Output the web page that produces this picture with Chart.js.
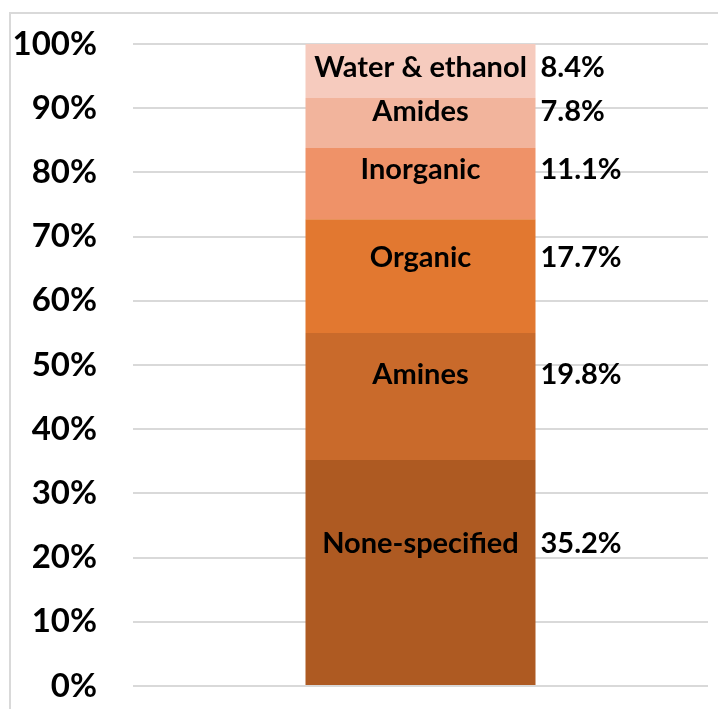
<!DOCTYPE html>
<html>
<head>
<meta charset="utf-8">
<script src="https://cdn.jsdelivr.net/npm/chart.js@4"></script>
<style>
    html, body { margin: 0; padding: 0; background: #fff; }
</style>
</head>
<body>
<canvas id="stackChart" width="718" height="709"></canvas>
<script>
// 資料
const categories = [''];
const segmentNames = ['None-specified', 'Amines', 'Organic', 'Inorganic', 'Amides', 'Water & ethanol'];
const segmentValues = [35.2, 19.8, 17.7, 11.1, 7.8, 8.4];
const tickValues = [0, 10, 20, 30, 40, 50, 60, 70, 80, 90, 100];

// 樣式
const segmentColors = ['#AE5A22', '#C96A2B', '#E27830', '#EF9268', '#F2B49C', '#F6CBBE'];
const labelFraction = [0.37, 0.33, 0.34, 0.31, 0.28, 0.44];
const FONT = "Lato, 'Open Sans', sans-serif";

// 外框（左、上）
const framePlugin = {
    id: 'frame',
    beforeDraw: function (chart) {
        const ctx = chart.ctx;
        ctx.save();
        ctx.strokeStyle = '#d9d9d9';
        ctx.lineWidth = 2;
        ctx.beginPath();
        ctx.moveTo(10, 709);
        ctx.lineTo(10, 13);
        ctx.lineTo(718, 13);
        ctx.stroke();
        ctx.restore();
    }
};

// 區段名稱與百分比標籤
const labelPlugin = {
    id: 'segLabels',
    afterDatasetsDraw: function (chart) {
        const ctx = chart.ctx;
        ctx.save();
        ctx.fillStyle = '#000';
        ctx.font = "bold 29px " + FONT;
        ctx.textBaseline = 'middle';
        chart.data.datasets.forEach(function (ds, i) {
            const bar = chart.getDatasetMeta(i).data[0];
            const top = Math.min(bar.y, bar.base);
            const h = Math.abs(bar.base - bar.y);
            const y = top + h * labelFraction[i];
            ctx.textAlign = 'center';
            ctx.fillText(ds.label, bar.x, y);
            ctx.textAlign = 'left';
            ctx.fillText(ds.data[0].toFixed(1) + '%', bar.x + bar.width / 2 + 5, y);
        });
        ctx.restore();
    }
};

const datasets = segmentNames.map(function (name, i) {
    return {
        label: name,
        data: [segmentValues[i]],
        backgroundColor: segmentColors[i],
        borderWidth: 0,
        barPercentage: 0.4,
        categoryPercentage: 1.0
    };
});

new Chart(document.getElementById('stackChart'), {
    type: 'bar',
    data: { labels: categories, datasets: datasets },
    options: {
        responsive: false,
        animation: false,
        layout: { padding: { left: 12, right: 10, top: 44, bottom: 23 } },
        plugins: {
            legend: { display: false },
            tooltip: { enabled: false }
        },
        scales: {
            x: {
                stacked: true,
                display: false
            },
            y: {
                stacked: true,
                min: 0,
                max: 100,
                afterBuildTicks: function (axis) {
                    axis.ticks = tickValues.map(function (v) { return { value: v }; });
                },
                afterFit: function (axis) {
                    axis.width = 121;
                    axis.paddingTop = 0;
                    axis.paddingBottom = 0;
                },
                ticks: {
                    padding: 36,
                    color: '#000',
                    font: { family: FONT, size: 33, weight: 'bold' },
                    callback: function (value) { return value + '%'; }
                },
                grid: {
                    color: '#d9d9d9',
                    lineWidth: 2,
                    drawTicks: false
                },
                border: { display: false }
            }
        }
    },
    plugins: [framePlugin, labelPlugin]
});
</script>
</body>
</html>
